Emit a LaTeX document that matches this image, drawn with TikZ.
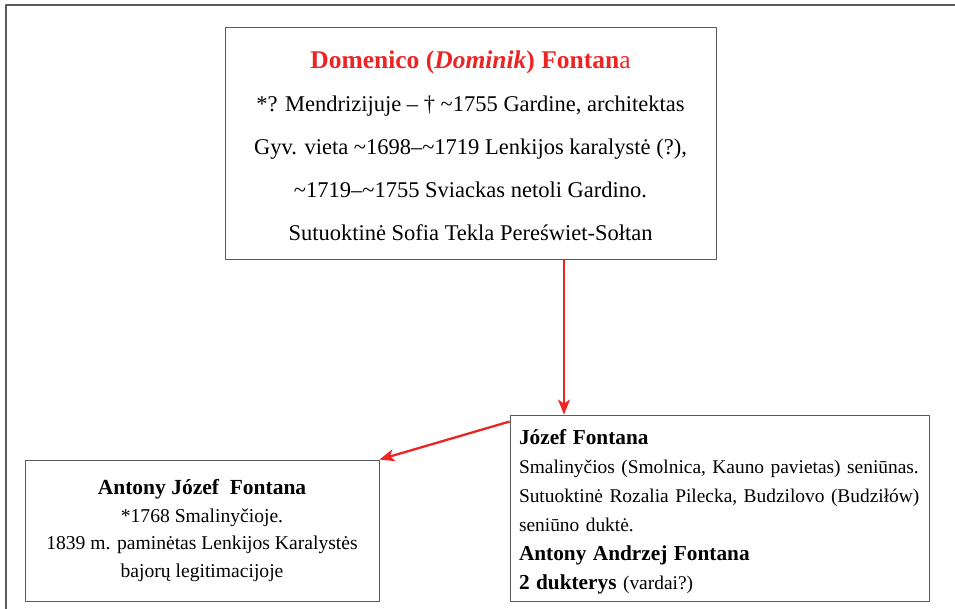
\documentclass[tikz,border=0pt]{standalone}
\usepackage{fontspec}
\setmainfont{Liberation Serif}
\usetikzlibrary{arrows.meta}
\definecolor{famred}{RGB}{236,36,36}
\definecolor{boxgray}{RGB}{90,90,90}
\tikzset{
  person/.style={draw=boxgray, line width=.9pt, inner sep=0pt},
  link/.style={famred, line width=2.3pt, -{Stealth[length=15pt, width=12pt, inset=4pt]}}
}
\begin{document}
\begin{tikzpicture}[x=1pt, y=-1pt, line join=round]
	\useasboundingbox (0,0) rectangle (955,609);
	\draw[boxgray, line width=1.6pt] (6,609) -- (6,5) -- (955,5);
	% protėvis
	\node[person, minimum width=491, minimum height=232, align=center, font=\fontsize{22.5}{43}\selectfont] (domenico) at (470.5,143)
	{\rule{0pt}{24pt}{\fontsize{25.5}{43}\selectfont\bfseries\color{famred}Domenico (\textit{Dominik}) Fontan\mdseries a}\\
	 *? Mendrizijuje – † \textasciitilde1755 Gardine, architektas\\
	 Gyv. vieta \textasciitilde1698–\textasciitilde1719 Lenkijos karalystė (?),\\
	 \textasciitilde1719–\textasciitilde1755 Sviackas netoli Gardino.\\
	 Sutuoktinė Sofia Tekla Pereświet-Sołtan};
	\node[person, minimum width=419, minimum height=186, text width=401, align=left, font=\fontsize{19.4}{29}\selectfont] (jozef) at (719.5,508)
	{\rule{0pt}{23pt}{\fontsize{21.3}{29}\selectfont\bfseries Józef Fontana}\\
	 Smalinyčios (Smolnica, Kauno pavietas) seniūnas.\\
	 Sutuoktinė Rozalia Pilecka, Budzilovo (Budziłów)\\
	 seniūno duktė.\\
	 {\fontsize{21.3}{29}\selectfont\bfseries Antony Andrzej Fontana}\\
	 {\fontsize{21.3}{29}\selectfont\bfseries 2 dukterys} (vardai?)};
	\node[person, minimum width=354, minimum height=141, align=center, font=\fontsize{19.6}{27.5}\selectfont] (antony) at (202,530.5)
	{{\fontsize{21.5}{27.5}\selectfont\bfseries Antony Józef\ \ Fontana}\\
	 *1768 Smalinyčioje.\\
	 1839 m. paminėtas Lenkijos Karalystės\\
	 bajorų legitimacijoje};
	% ryšiai
	\coordinate (drop) at (564,0);
	\draw[link] (domenico.south -| drop) -- (jozef.north -| drop);
	\draw[link] ([yshift=-7]jozef.north west) -- (antony.north east);
\end{tikzpicture}
\end{document}
